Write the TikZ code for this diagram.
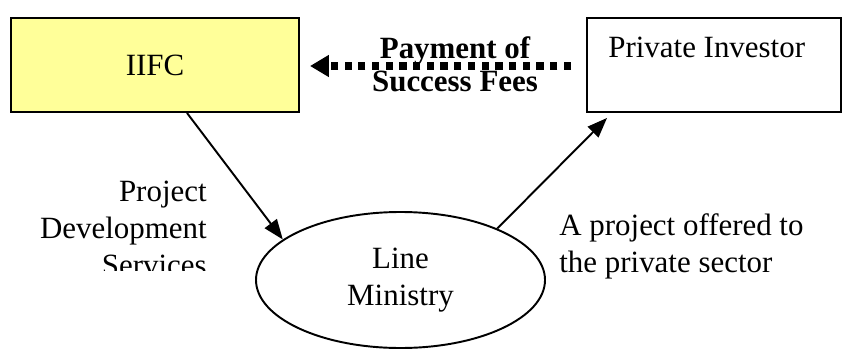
\documentclass[tikz,border=0pt]{standalone}
\usepackage{fontspec}
\setmainfont{Liberation Serif}
\definecolor{iifcyellow}{RGB}{255,255,153}
\usetikzlibrary{arrows.meta,positioning,shapes.geometric}

\begin{document}
\begin{tikzpicture}[font=\fontsize{17.6}{21}\selectfont,
  party/.style={draw,line width=1.1pt,minimum width=#1,minimum height=1.88cm,inner sep=0pt},
  flow/.style={line width=1.1pt,-{Triangle[length=0.4cm,width=0.3cm]}},
  fees/.style={line width=4.1pt,dash pattern=on 4.1pt off 3.7pt,-{Triangle[length=0.38cm,width=0.42cm]}}]
  \useasboundingbox (0,0) rectangle (16.84,6.98);
  % the two parties
  \node[party=5.76cm,fill=iifcyellow] (iifc) at (3.10,5.68) {IIFC};
  \node[party=5.08cm] (investor) at (14.28,5.68) {};
  \node[anchor=base west,inner sep=0pt] (investortxt) at (12.16,5.84) {Private Investor};
  \node[draw,ellipse,line width=1.1pt,minimum width=5.78cm,minimum height=2.72cm,inner sep=0pt,align=center]
    (ministry) at (8.01,1.38) {Line\\Ministry};
  % payment back to IIFC
  \node[font=\fontsize{17.6}{18.8}\selectfont\bfseries,align=center,inner sep=0pt] (feestxt) at (9.10,5.70) {Payment of\\Success Fees};
  \draw[fees,shorten <=0.3cm,shorten >=0.2cm] ([yshift=-0.02cm]investor.west) -- ([yshift=-0.02cm]iifc.east);
  % services and offer
  \draw[flow] ([xshift=0.64cm]iifc.south) -- (ministry.161);
  \draw[flow] (ministry.28) -- ([xshift=0.42cm,yshift=-0.1cm]investor.south west);
  \begin{scope}
    \clip (0,1.58) rectangle (5,3.6);
    \node[anchor=north east,align=right,inner sep=0pt] (servicestxt) at (4.14,3.36) {Project\\Development\\Services};
  \end{scope}
  \node[anchor=north west,align=left,inner sep=0pt] (offertxt) at (11.18,2.72) {A project offered to\\the private sector};
\end{tikzpicture}
\end{document}
